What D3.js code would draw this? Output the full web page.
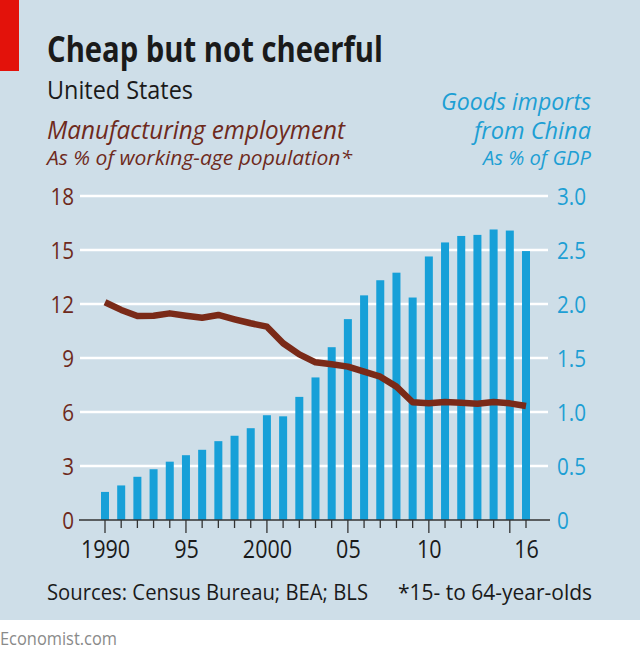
<!DOCTYPE html>
<html>
<head>
<meta charset="utf-8">
<script src="https://cdn.jsdelivr.net/npm/d3@7"></script>
<style>
  html, body { margin: 0; padding: 0; background: #ffffff; }
  svg { display: block; }
</style>
</head>
<body>
<svg id="chart" width="640" height="660"></svg>
<script>
// ---- data ----
const years = [1990,1991,1992,1993,1994,1995,1996,1997,1998,1999,2000,2001,2002,2003,2004,2005,2006,2007,2008,2009,2010,2011,2012,2013,2014,2015,2016];
const importsPctGDP = [0.26,0.32,0.40,0.47,0.54,0.60,0.65,0.73,0.78,0.85,0.97,0.96,1.14,1.32,1.60,1.86,2.08,2.22,2.29,2.06,2.44,2.57,2.63,2.64,2.69,2.68,2.49];
const mfgEmployment = [12.1,11.67,11.33,11.35,11.48,11.35,11.24,11.39,11.15,10.93,10.74,9.82,9.2,8.76,8.65,8.52,8.24,7.96,7.41,6.54,6.48,6.56,6.52,6.46,6.56,6.48,6.33];
const leftTicks = [0,3,6,9,12,15,18];
const rightTicks = [0,0.5,1.0,1.5,2.0,2.5,3.0];
const rightTickLabels = ["0","0.5","1.0","1.5","2.0","2.5","3.0"];
const xLabelYears = [1990,1995,2000,2005,2010,2016];
const xLabels = ["1990","95","2000","05","10","16"];

// ---- setup ----
const svg = d3.select("#chart");
const FONT = "'Open Sans', 'Noto Sans', sans-serif";

svg.append("rect").attr("x",0).attr("y",0).attr("width",640).attr("height",620).attr("fill","#cedee8");
svg.append("rect").attr("x",0).attr("y",0).attr("width",19).attr("height",71).attr("fill","#e3120b");

const x = d3.scaleLinear().domain([1990,2016]).range([105,526]);
const yL = d3.scaleLinear().domain([0,18]).range([520,196]);
const yR = d3.scaleLinear().domain([0,3]).range([520,196]);

function condense(sel, f) {
  sel.each(function(){
    const L = this.getComputedTextLength();
    this.setAttribute("textLength", L * f);
    this.setAttribute("lengthAdjust", "spacingAndGlyphs");
  });
  return sel;
}
function txt(str, xx, yy, size, opts={}) {
  const t = svg.append("text").attr("x",xx).attr("y",yy)
    .attr("font-family", FONT).attr("font-size", size)
    .attr("fill", opts.fill || "#1a1a1a")
    .attr("font-weight", opts.weight || "normal")
    .attr("font-style", opts.italic ? "italic" : "normal")
    .attr("text-anchor", opts.anchor || "start")
    .text(str);
  if (opts.w) t.attr("textLength", opts.w).attr("lengthAdjust","spacingAndGlyphs");
  return t;
}

// titles
txt("Cheap but not cheerful", 47, 62, 35, {weight:"bold", w:336});
txt("United States", 47, 99, 25, {w:146});
txt("Manufacturing employment", 47, 139, 25, {italic:true, fill:"#6e2a1c", w:298});
txt("As % of working-age population*", 47, 165, 20, {italic:true, fill:"#6e2a1c", w:305});
txt("Goods imports", 591, 110, 23, {italic:true, fill:"#1d9fd4", anchor:"end", w:150});
txt("from China", 591, 139, 23, {italic:true, fill:"#1d9fd4", anchor:"end", w:117});
txt("As % of GDP", 591, 165, 20, {italic:true, fill:"#1d9fd4", anchor:"end", w:108});

// gridlines
svg.append("g").selectAll("line").data(leftTicks.filter(d => d > 0)).join("line")
  .attr("x1",80).attr("x2",548)
  .attr("y1",d=>yL(d)).attr("y2",d=>yL(d))
  .attr("stroke","#ffffff").attr("stroke-width",2.5);

// left axis labels
const leftAxis = d3.axisLeft(yL).tickValues(leftTicks).tickSize(0).tickPadding(0).tickFormat(d3.format("d"));
const la = svg.append("g").attr("transform","translate(74,0)").call(leftAxis);
la.select(".domain").remove();
condense(la.selectAll("text").attr("font-family",FONT).attr("font-size",24).attr("fill","#6e2a1c").attr("dy","0.36em"), 0.86);

// right axis labels
const rightAxis = d3.axisRight(yR).tickValues(rightTicks).tickSize(0).tickPadding(0).tickFormat((d,i)=>rightTickLabels[i]);
const ra = svg.append("g").attr("transform","translate(557,0)").call(rightAxis);
ra.select(".domain").remove();
condense(ra.selectAll("text").attr("font-family",FONT).attr("font-size",24).attr("fill","#1d9fd4").attr("dy","0.36em"), 0.86);

// bars
const barW = 8;
svg.append("g").selectAll("rect").data(years).join("rect")
  .attr("x", d => x(d) - barW/2)
  .attr("width", barW)
  .attr("y", (d,i) => yR(importsPctGDP[i]))
  .attr("height", (d,i) => yR(0) - yR(importsPctGDP[i]))
  .attr("fill", "#17a0d8");

// x axis
svg.append("line").attr("x1",79).attr("x2",550).attr("y1",520).attr("y2",520)
  .attr("stroke","#333333").attr("stroke-width",1.5);
svg.append("g").selectAll("line").data(years).join("line")
  .attr("x1", d=>x(d)).attr("x2", d=>x(d))
  .attr("y1", 520).attr("y2", d => d % 5 === 0 ? 533 : 528)
  .attr("stroke","#333333").attr("stroke-width",1.3);
const xAxis = d3.axisBottom(x).tickValues(xLabelYears).tickSize(0).tickPadding(0).tickFormat((d,i)=>xLabels[i]);
const xa = svg.append("g").attr("transform","translate(0,540)").call(xAxis);
xa.select(".domain").remove();
condense(xa.selectAll("text").attr("font-family",FONT).attr("font-size",25).attr("fill","#1a1a1a").attr("dy","0.71em"), 0.86);

// line
const line = d3.line().x((d,i)=>x(years[i])).y(d=>yL(d)).curve(d3.curveLinear);
svg.append("path").datum(mfgEmployment).attr("d", line)
  .attr("fill","none").attr("stroke","#7a2a18").attr("stroke-width",6.5)
  .attr("stroke-linejoin","round").attr("stroke-linecap","butt");

// footer
txt("Sources: Census Bureau; BEA; BLS", 47, 600, 21, {w:321});
txt("*15- to 64-year-olds", 592, 600, 21, {anchor:"end", w:194});
txt("Economist.com", 0, 645, 19, {fill:"#8a8a8a", w:117});
</script>
</body>
</html>
